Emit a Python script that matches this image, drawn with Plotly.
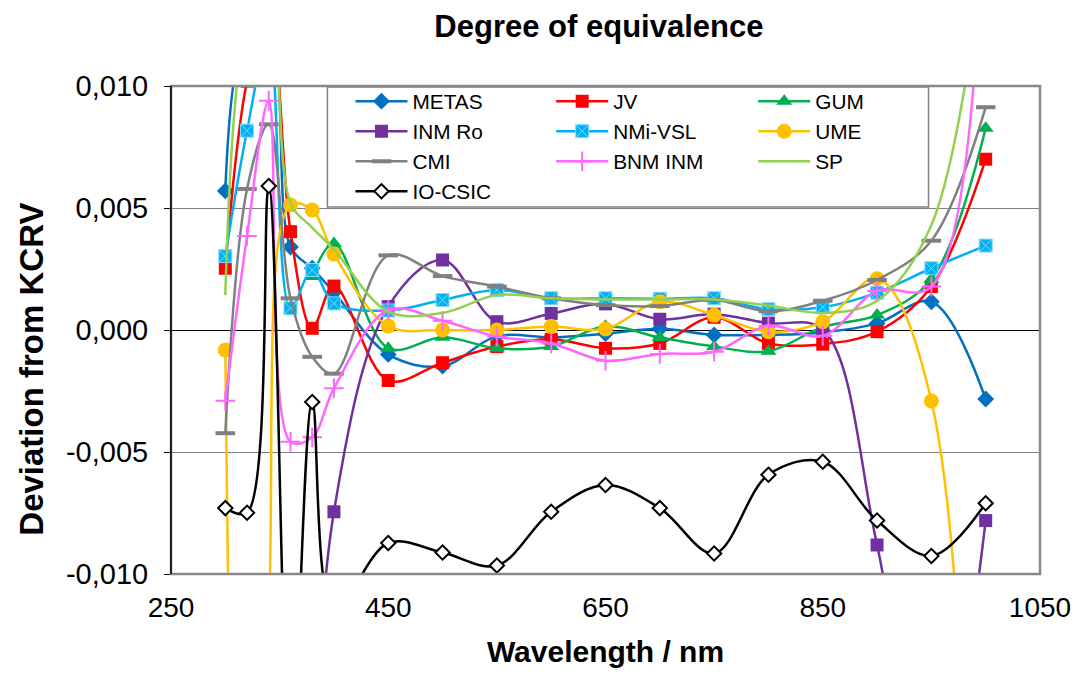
import plotly.graph_objects as go

wavelengths = [300, 320, 340, 360, 380, 400, 450, 500, 550, 600, 650, 700, 750, 800, 850, 900, 950, 1000]

metas = [5.70e-3, 0.0120, 0.0120, 3.40e-3, 2.53e-3, 1.55e-3, -1.00e-3, -1.48e-3, -0.25e-3, -0.30e-3, -0.15e-3, 0.05e-3, -0.20e-3, -0.20e-3, -0.10e-3, 0.27e-3, 1.16e-3, -2.83e-3]
jv = [2.53e-3, 0.0102, 0.0131, 4.03e-3, 0.07e-3, 1.80e-3, -2.07e-3, -1.34e-3, -0.68e-3, -0.38e-3, -0.75e-3, -0.55e-3, 0.52e-3, -0.55e-3, -0.58e-3, -0.07e-3, 1.78e-3, 7.00e-3]
gum = [None, None, None, None, 2.19e-3, 3.55e-3, -0.75e-3, -0.30e-3, -0.75e-3, -0.68e-3, 0.15e-3, -0.31e-3, -0.68e-3, -0.87e-3, 0.12e-3, 0.61e-3, 2.08e-3, 8.27e-3]
inm_ro = [None, None, None, None, -0.020, -7.45e-3, 0.96e-3, 2.87e-3, 0.34e-3, 0.68e-3, 1.07e-3, 0.44e-3, 0.65e-3, 0.28e-3, 0.03e-3, -8.81e-3, -0.020, -7.81e-3]
nmi_vsl = [3.03e-3, 8.17e-3, 0.0120, 0.89e-3, 2.46e-3, 1.09e-3, 0.80e-3, 1.23e-3, 1.64e-3, 1.30e-3, 1.30e-3, 1.28e-3, 1.30e-3, 0.85e-3, 0.93e-3, 1.53e-3, 2.53e-3, 3.46e-3]
ume = [-0.82e-3, -0.050, -0.012, 5.12e-3, 4.92e-3, 3.11e-3, 0.16e-3, 0.00, 0.00, 0.14e-3, 0.04e-3, 1.16e-3, 0.61e-3, -0.07e-3, 0.34e-3, 2.10e-3, -2.91e-3, -0.050]
cmi = [-4.23e-3, 5.78e-3, 8.43e-3, 1.30e-3, -1.10e-3, -1.79e-3, 3.06e-3, 2.21e-3, 1.78e-3, 1.30e-3, 1.02e-3, 0.98e-3, 1.23e-3, 0.77e-3, 1.20e-3, 2.05e-3, 3.66e-3, 9.13e-3]
bnm_inm = [-2.90e-3, 3.85e-3, 9.40e-3, -4.58e-3, -4.40e-3, -2.39e-3, 0.82e-3, 0.38e-3, -0.27e-3, -0.55e-3, -1.26e-3, -0.98e-3, -0.89e-3, 0.17e-3, -0.24e-3, 1.60e-3, 1.78e-3, 0.020]
sp = [1.43e-3, 0.0125, 0.0140, 5.20e-3, 4.20e-3, 3.30e-3, 0.75e-3, 0.70e-3, 1.43e-3, 1.30e-3, 1.25e-3, 1.25e-3, 1.25e-3, 1.00e-3, 0.70e-3, 1.20e-3, 4.30e-3, 0.016]
io_csic = [-7.30e-3, -7.49e-3, 5.90e-3, -0.018, -2.95e-3, -0.0115, -8.73e-3, -9.12e-3, -9.65e-3, -7.45e-3, -6.35e-3, -7.30e-3, -9.16e-3, -5.93e-3, -5.40e-3, -7.81e-3, -9.26e-3, -7.10e-3]

y_tickvals = [0.010, 0.005, 0.0, -0.005, -0.010]
y_ticktext = ["0,010", "0,005", "0,000", "-0,005", "-0,010"]
x_tickvals = [250, 450, 650, 850, 1050]
x_ticktext = ["250", "450", "650", "850", "1050"]

FONT = "Liberation Sans, Arial, sans-serif"

series = [
    ("METAS", metas, "#0070C0", dict(symbol="diamond", size=13, color="#0070C0", line=dict(width=0)), "legend"),
    ("JV", jv, "#FF0000", dict(symbol="square", size=13, color="#FF0000", line=dict(width=0)), "legend2"),
    ("GUM", gum, "#00B050", dict(symbol="triangle-up", size=14, color="#00B050", line=dict(width=0)), "legend3"),
    ("INM Ro", inm_ro, "#7030A0", dict(symbol="square", size=13, color="#7030A0", line=dict(width=0)), "legend"),
    ("NMi-VSL", nmi_vsl, "#00B0F0", dict(symbol="square-x", size=13, color="#00B0F0", line=dict(width=1, color="#7FDBFF")), "legend2"),
    ("UME", ume, "#FFC000", dict(symbol="circle", size=15, color="#FFC000", line=dict(width=0)), "legend3"),
    ("CMI", cmi, "#808080", dict(symbol="line-ew", size=14, color="#808080", line=dict(width=4, color="#808080")), "legend"),
    ("BNM INM", bnm_inm, "#FF66FF", dict(symbol="cross-thin", size=14, color="#FF66FF", line=dict(width=2, color="#FF66FF")), "legend2"),
    ("SP", sp, "#92D050", None, "legend3"),
    ("IO-CSIC", io_csic, "#000000", dict(symbol="diamond", size=11, color="#FFFFFF", line=dict(width=2, color="#000000")), "legend"),
]

fig = go.Figure()
for name, vals, color, marker, lg in series:
    kw = dict(
        x=wavelengths, y=vals, name=name, legend=lg,
        line=dict(color=color, width=2.5, shape="spline", smoothing=1.0),
        connectgaps=False,
    )
    if marker is None:
        kw["mode"] = "lines"
    else:
        kw["mode"] = "lines+markers"
        kw["marker"] = marker
    fig.add_trace(go.Scatter(**kw))

legend_common = dict(
    bgcolor="rgba(0,0,0,0)", borderwidth=0, font=dict(family=FONT, size=20.8, color="#000000"),
    itemwidth=52, yanchor="top", xanchor="left", y=1.010, tracegroupgap=0,
)
fig.update_layout(
    legend=dict(x=0.2065, **legend_common),
    legend2=dict(x=0.4375, **legend_common),
    legend3=dict(x=0.670, **legend_common),
)

# legend frame and plot-area border
fig.add_shape(type="rect", xref="paper", yref="paper", x0=0.18, x1=0.8717, y0=0.752, y1=0.998,
              fillcolor="#FFFFFF", line=dict(color="#808080", width=1.5), layer="above")
fig.add_shape(type="rect", xref="paper", yref="paper", x0=0, x1=1, y0=0, y1=1,
              fillcolor="rgba(0,0,0,0)", line=dict(color="#888888", width=2.5), layer="above")
fig.add_shape(type="line", xref="paper", yref="paper", x0=0, x1=0, y0=0, y1=1,
              line=dict(color="#000000", width=1.5), layer="above")

# y-axis title placed as a rotated annotation
fig.add_annotation(text="<b>Deviation from KCRV</b>", xref="paper", yref="paper",
                   x=-0.1615, y=0.42, xanchor="center", yanchor="middle", textangle=-90,
                   showarrow=False, font=dict(family=FONT, size=33, color="#000000"))

fig.update_layout(
    width=1083, height=675,
    margin=dict(l=171, r=39, t=86, b=101),
    paper_bgcolor="#FFFFFF", plot_bgcolor="#FFFFFF",
    font=dict(family=FONT, color="#000000"),
    showlegend=True,
    title=dict(text="<b>Degree of equivalence</b>", x=0.553, xanchor="center", y=0.962, yanchor="middle",
               font=dict(family=FONT, size=31, color="#000000")),
    xaxis=dict(
        range=[250, 1050], tickmode="array", tickvals=x_tickvals, ticktext=x_ticktext,
        showgrid=False, zeroline=False, showline=False, ticks="", ticklabelstandoff=14,
        tickfont=dict(family=FONT, size=28, color="#000000"),
        title=dict(text="<b>Wavelength / nm</b>", font=dict(family=FONT, size=30, color="#000000"), standoff=18),
    ),
    yaxis=dict(
        range=[-0.010, 0.010], tickmode="array", tickvals=y_tickvals, ticktext=y_ticktext,
        showgrid=True, gridcolor="#808080", gridwidth=1,
        zeroline=True, zerolinecolor="#000000", zerolinewidth=1.2,
        showline=False, ticks="outside", ticklen=6, tickcolor="#000000", tickwidth=1, ticklabelstandoff=10,
        tickfont=dict(family=FONT, size=29, color="#000000"),
    ),
)

fig.write_html("out.html")
